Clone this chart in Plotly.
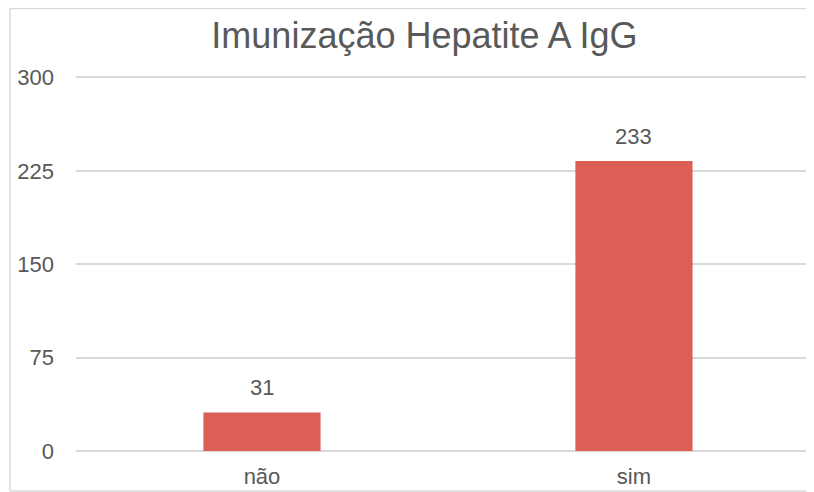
import plotly.graph_objects as go

# Data
categorias = ["não", "sim"]
valores = [31, 233]
y_ticks = [0, 75, 150, 225, 300]

bar_color = "#dc5f55"
text_color = "#595959"
grid_color = "#d9d9d9"
font_family = "Liberation Sans, Arial, sans-serif"

fig = go.Figure()
fig.add_trace(go.Bar(
    x=categorias,
    y=valores,
    marker=dict(color=bar_color, line=dict(width=0)),
    width=0.315,
    hoverinfo="x+y",
))

# data labels above the bars
for cat, val in zip(categorias, valores):
    fig.add_annotation(
        x=cat, y=val, text=str(val), showarrow=False,
        yanchor="bottom", yshift=10,
        font=dict(size=22, color=text_color, family=font_family),
    )

# light frame around the chart area
fig.add_shape(
    type="rect", xref="paper", yref="paper",
    x0=-66 / 738, x1=1.02, y0=-40 / 376, y1=1 + 66.5 / 376,
    line=dict(color="#d9d9d9", width=1.5), layer="below",
)

# the page body adds 8px, so the figure is 8px smaller than the window
fig.update_layout(
    width=806,
    height=484,
    margin=dict(l=68, r=0, t=67, b=41, autoexpand=False),
    paper_bgcolor="white",
    plot_bgcolor="white",
    showlegend=False,
    title=dict(
        text="Imunização Hepatite A IgG",
        x=416.5 / 806, xref="container", xanchor="center",
        y=1 - 27 / 484, yref="container", yanchor="middle",
        font=dict(size=36, color=text_color, family=font_family),
    ),
    font=dict(family=font_family, color=text_color, size=22),
)
fig.update_xaxes(
    range=[-0.5, 1.484],
    automargin=False,
    showgrid=False,
    showline=False,
    zeroline=False,
    ticks="",
    ticklabelstandoff=10,
    tickfont=dict(size=22, color=text_color),
)
fig.update_yaxes(
    range=[0, 302],
    automargin=False,
    tickvals=y_ticks,
    showgrid=True,
    gridcolor=grid_color,
    gridwidth=1.5,
    zeroline=True,
    zerolinecolor=grid_color,
    zerolinewidth=1.5,
    showline=False,
    ticks="",
    ticklabelstandoff=21,
    tickfont=dict(size=22, color=text_color),
)

fig.write_html("out.html")
